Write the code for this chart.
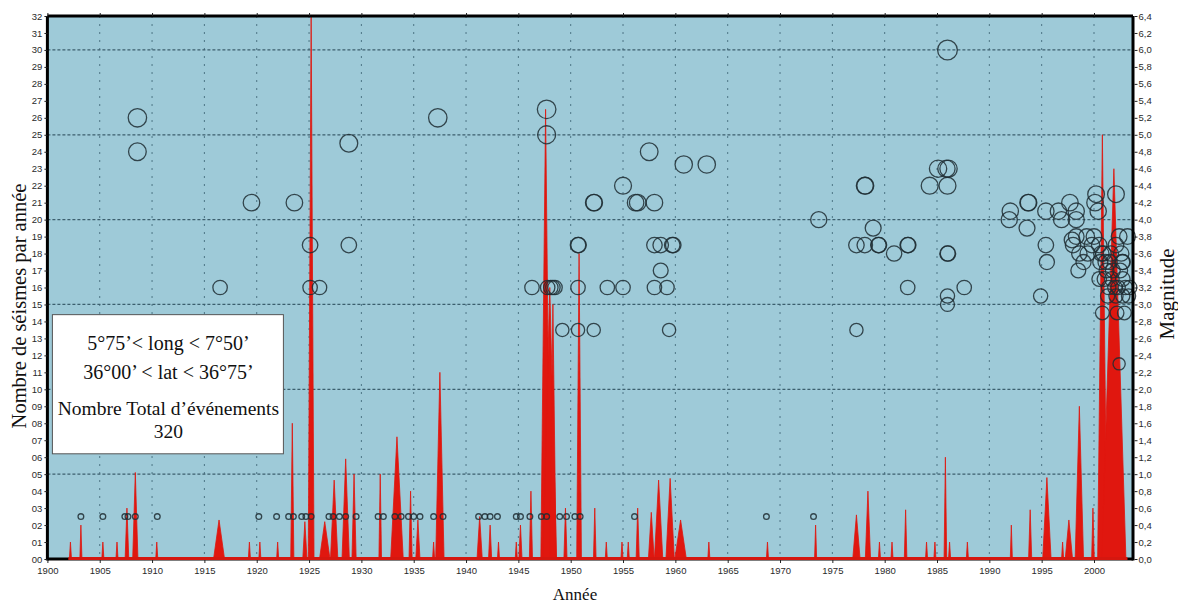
<!DOCTYPE html>
<html>
<head>
<meta charset="utf-8">
<script src="https://cdn.jsdelivr.net/npm/d3@7"></script>
<style>
  body { margin: 0; background: #fff; }
  svg { display: block; }
</style>
</head>
<body>
<div id="chart"></div>
<script>
// yearly counts drawn as spikes: peak year, count (left axis), base span in years
var spikeYears = [1902.2, 1903.2, 1905.3, 1906.65, 1907.6, 1908.4, 1910.45, 1916.4, 1919.3, 1920.3,
  1922.0, 1923.4, 1924.6, 1925.2, 1926.5, 1927.4, 1928.5, 1929.3, 1931.8, 1933.4,
  1934.7, 1935.4, 1936.9, 1937.5, 1941.3, 1942.3, 1943.1, 1944.8, 1945.2, 1946.2,
  1947.6, 1948.0, 1948.3, 1949.5, 1950.8, 1952.3, 1953.4, 1954.9, 1955.5, 1956.4,
  1957.7, 1958.4, 1959.5, 1960.5, 1963.2, 1968.8, 1973.4, 1977.3, 1978.4, 1979.5,
  1980.7, 1982.0, 1984.0, 1984.8, 1985.8, 1986.2, 1987.9, 1992.1, 1993.9, 1995.5,
  1997.0, 1997.6, 1998.6, 1999.9, 2000.8, 2001.9]
var spikeCounts = [1, 2, 1, 1, 3, 5.1, 1, 2.3, 1, 1,
  1, 8, 2.2, 32, 2.2, 4.65, 5.9, 5, 5, 7.2,
  4, 2.3, 1, 11, 2.5, 2, 1, 1, 2, 4,
  26.5, 16, 15, 3, 18, 3, 1, 1, 1, 3,
  2.75, 4.65, 4.75, 2.3, 1, 1, 2, 2.6, 4, 1,
  1, 2.9, 1, 1, 6, 1, 1, 2, 2.9, 4.8,
  1, 2.3, 9, 3, 25, 23]
var spikeSpans = [0.2, 0.2, 0.2, 0.2, 0.35, 0.5, 0.2, 1.05, 0.2, 0.2,
  0.2, 0.3, 0.4, 0.55, 1.0, 0.7, 0.7, 0.4, 0.25, 1.2,
  0.3, 0.4, 0.2, 0.8, 0.5, 0.3, 0.2, 0.2, 0.3, 0.3,
  0.9, 1.3, 0.6, 0.3, 0.45, 0.25, 0.2, 0.2, 0.2, 0.3,
  0.55, 0.8, 0.8, 1.1, 0.2, 0.2, 0.2, 0.7, 0.5, 0.2,
  0.2, 0.25, 0.2, 0.2, 0.25, 0.2, 0.2, 0.2, 0.3, 0.8,
  0.2, 0.7, 0.8, 0.25, 0.9, 2.3]

// individual events: year and magnitude (right axis); 0.5 = magnitude not known
var eventYears = [1908.6, 1908.6, 1916.5, 1919.5, 1923.6, 1925.1, 1925.1, 1926.0, 1928.8, 1928.8,
  1937.3, 1946.3, 1947.7, 1947.7, 1947.8, 1948.1, 1948.3, 1948.5, 1949.2, 1950.7,
  1950.75, 1950.7, 1950.7, 1952.2, 1952.25, 1952.2, 1953.5, 1955.0, 1955.0, 1956.2,
  1956.4, 1957.5, 1958.0, 1958.0, 1958.0, 1958.6, 1958.6, 1959.2, 1959.4, 1959.7,
  1959.8, 1960.8, 1963.0, 1973.7, 1977.3, 1977.3, 1978.1, 1978.15, 1978.1, 1978.9,
  1979.4, 1979.45, 1980.9, 1982.2, 1982.25, 1982.2, 1984.3, 1985.1, 1986.0, 1986.0,
  1985.9, 1986.1, 1986.0, 1986.05, 1986.0, 1986.0, 1987.6, 1992.0, 1991.9, 1993.7,
  1993.75, 1993.6, 1994.9, 1995.4, 1995.4, 1995.5, 1996.6, 1996.9, 1997.7, 1998.0,
  1997.9, 1998.3, 1998.3, 1998.3, 1998.5, 1998.6, 1999.0, 1999.3, 1999.4, 2000.1,
  2000.2, 2000.4, 2000.0, 1999.8, 2000.5, 2000.6, 2000.9, 2001.2, 2001.5, 2001.8,
  2002.1, 2002.7, 2003.0, 2003.3, 2003.4, 2000.5, 2001.0, 2001.4, 2001.7, 2002.0,
  2002.3, 2002.1, 2002.4, 2002.6, 2002.75, 2002.75, 2002.1, 2002.75, 2001.3, 2000.8,
  2002.2, 2002.9, 2002.4, 2000.7, 2001.1, 2001.6, 2002.5, 2003.2,
  1903.2, 1905.3, 1907.4, 1907.7, 1908.4, 1910.5, 1920.2, 1921.9, 1923.05, 1923.5,
  1924.3, 1924.7, 1925.2, 1926.9, 1927.3, 1927.9, 1928.5, 1929.5, 1931.6, 1932.1,
  1933.2, 1933.8, 1934.5, 1935.0, 1935.6, 1936.9, 1937.8, 1941.2, 1941.8, 1942.3,
  1943.0, 1944.8, 1945.2, 1946.1, 1947.2, 1947.7, 1948.95, 1949.6, 1950.4, 1950.9,
  1956.1, 1968.7, 1973.2]
var eventMags = [5.2, 4.8, 3.2, 4.2, 4.2, 3.7, 3.2, 3.2, 4.9, 3.7,
  5.2, 3.2, 5.3, 5.0, 3.2, 3.2, 3.2, 3.2, 2.7, 3.7,
  3.7, 3.2, 2.7, 4.2, 4.2, 2.7, 3.2, 4.4, 3.2, 4.2,
  4.2, 4.8, 4.2, 3.7, 3.2, 3.7, 3.4, 3.2, 2.7, 3.7,
  3.7, 4.65, 4.65, 4.0, 3.7, 2.7, 4.4, 4.4, 3.7, 3.9,
  3.7, 3.7, 3.6, 3.7, 3.7, 3.2, 4.4, 4.6, 6.0, 4.4,
  4.6, 4.6, 3.6, 3.6, 3.1, 3.0, 3.2, 4.1, 4.0, 4.2,
  4.2, 3.9, 3.1, 4.1, 3.7, 3.5, 4.1, 4.0, 4.2, 3.7,
  3.76, 4.1, 4.0, 3.8, 3.4, 3.6, 3.5, 3.8, 3.6, 4.2,
  4.3, 4.1, 3.8, 3.7, 3.7, 3.5, 3.6, 3.4, 3.5, 3.4,
  3.7, 3.5, 3.2, 3.1, 3.2, 3.3, 3.3, 3.2, 3.3, 3.2,
  3.2, 4.3, 3.8, 3.6, 3.5, 3.3, 3.1, 3.1, 3.1, 2.9,
  2.9, 2.9, 2.3, 3.6, 3.5, 3.6, 3.4, 3.8,
  0.5, 0.5, 0.5, 0.5, 0.5, 0.5, 0.5, 0.5, 0.5, 0.5,
  0.5, 0.5, 0.5, 0.5, 0.5, 0.5, 0.5, 0.5, 0.5, 0.5,
  0.5, 0.5, 0.5, 0.5, 0.5, 0.5, 0.5, 0.5, 0.5, 0.5,
  0.5, 0.5, 0.5, 0.5, 0.5, 0.5, 0.5, 0.5, 0.5, 0.5,
  0.5, 0.5, 0.5]

var countTicks = d3.range(0, 33)
var magTicks = d3.range(0, 33).map(d => d / 5)
var yearTicks = d3.range(1900, 2001, 5)
var gridCounts = [5, 10, 15, 20, 25, 30]
var legendLines = ['5°75’< long < 7°50’', '36°00’ < lat < 36°75’', 'Nombre Total d’événements', '320']

var margin = { top: 16, left: 47.4, right: 45, bottom: 49 }
var width = 1178 - margin.left - margin.right
var height = 608 - margin.top - margin.bottom

var svg = d3
  .select('#chart')
  .append('svg')
  .attr('width', 1178)
  .attr('height', 608)

var g = svg.append('g').attr('transform', `translate(${margin.left}, ${margin.top})`)

var xPositionScale = d3
  .scaleLinear()
  .domain([1900, 1900 + width / 10.466])
  .range([0, width])
var yPositionScale = d3
  .scaleLinear()
  .domain([0, 32])
  .range([height, 0])
var magScale = d3
  .scaleLinear()
  .domain([0, 6.4])
  .range([height, 0])
var radiusScale = d3
  .scaleSqrt()
  .domain([0, 6.4])
  .range([0, 10.2])

// background
g.append('rect')
  .attr('width', width)
  .attr('height', height)
  .attr('fill', '#9ecad8')

// grid
g.selectAll('.vgrid')
  .data(yearTicks.filter(d => d > 1900))
  .enter()
  .append('line')
  .attr('x1', d => xPositionScale(d))
  .attr('x2', d => xPositionScale(d))
  .attr('y1', 0)
  .attr('y2', height)
  .attr('stroke', '#4d7585')
  .attr('stroke-width', 1)
  .attr('stroke-dasharray', '2,6')

g.selectAll('.hgrid')
  .data(gridCounts)
  .enter()
  .append('line')
  .attr('x1', 0)
  .attr('x2', width)
  .attr('y1', d => yPositionScale(d))
  .attr('y2', d => yPositionScale(d))
  .attr('stroke', '#3c5f6e')
  .attr('stroke-width', 1.3)
  .attr('stroke-dasharray', '3,2')

// spikes
var spikes = spikeYears.map((d, i) => [
  { year: d - spikeSpans[i] / 2, n: 0 },
  { year: d, n: spikeCounts[i] },
  { year: d + spikeSpans[i] / 2, n: 0 }
])

var area = d3
  .area()
  .x(d => xPositionScale(d.year))
  .y1(d => yPositionScale(d.n))
  .y0(height)

g.selectAll('.spike')
  .data(spikes)
  .enter()
  .append('path')
  .attr('class', 'spike')
  .attr('d', area)
  .attr('fill', '#e0170f')
  .attr('stroke', '#e0170f')
  .attr('stroke-width', 0.8)

// events
g.selectAll('.event')
  .data(eventYears)
  .enter()
  .append('circle')
  .attr('cx', d => xPositionScale(d))
  .attr('cy', (d, i) => magScale(eventMags[i]))
  .attr('r', (d, i) => radiusScale(eventMags[i]))
  .attr('fill', 'none')
  .attr('stroke', '#1f2d33')
  .attr('stroke-opacity', 0.85)
  .attr('stroke-width', 1.3)

// legend box
g.append('rect')
  .attr('x', 5)
  .attr('y', yPositionScale(14.4))
  .attr('width', 231)
  .attr('height', yPositionScale(6.2) - yPositionScale(14.4))
  .attr('fill', '#fff')
  .attr('stroke', '#555')
  .attr('stroke-width', 1)

g.selectAll('.legend-text')
  .data(legendLines)
  .enter()
  .append('text')
  .attr('x', 121)
  .attr('y', (d, i) => [334, 363, 399, 422][i])
  .attr('text-anchor', 'middle')
  .attr('font-family', 'Liberation Serif, Times New Roman, serif')
  .attr('font-size', (d, i) => (i < 2 ? 20 : 19.5))
  .attr('fill', '#111')
  .text(d => d)

// baseline
g.append('line')
  .attr('x1', 0)
  .attr('x2', width)
  .attr('y1', height)
  .attr('y2', height)
  .attr('stroke', '#000')
  .attr('stroke-width', 3)
g.append('line')
  .attr('x1', xPositionScale(1902.0))
  .attr('x2', xPositionScale(2003.2))
  .attr('y1', height - 0.5)
  .attr('y2', height - 0.5)
  .attr('stroke', '#d5170f')
  .attr('stroke-width', 3)

// frame
g.append('line').attr('x1', 0).attr('x2', width).attr('y1', 0).attr('y2', 0)
  .attr('stroke', '#000').attr('stroke-width', 3)
g.append('line').attr('x1', 0).attr('x2', 0).attr('y1', 0).attr('y2', height + 1.5)
  .attr('stroke', '#000').attr('stroke-width', 3)
g.append('line').attr('x1', width).attr('x2', width).attr('y1', 0).attr('y2', height + 1.5)
  .attr('stroke', '#000').attr('stroke-width', 3)

// axes
var tickFont = 'Liberation Sans, Arial, sans-serif'

var yAxis = d3
  .axisLeft(yPositionScale)
  .tickValues(countTicks)
  .tickSize(3)
  .tickPadding(2)
  .tickFormat(d => (d < 10 ? '0' + d : d))
g.append('g').attr('class', 'axis y-axis').call(yAxis)

var magAxis = d3
  .axisRight(magScale)
  .tickValues(magTicks)
  .tickSize(3)
  .tickPadding(1)
  .tickFormat(d => d3.format('.1f')(d).replace('.', ','))
g.append('g')
  .attr('class', 'axis mag-axis')
  .attr('transform', `translate(${width + 1.5}, 0)`)
  .call(magAxis)

var xAxis = d3
  .axisBottom(xPositionScale)
  .tickValues(yearTicks)
  .tickSize(3)
  .tickPadding(4)
  .tickFormat(d3.format('d'))
g.append('g')
  .attr('class', 'axis x-axis')
  .attr('transform', `translate(0, ${height + 1})`)
  .call(xAxis)

var topAxis = d3
  .axisTop(xPositionScale)
  .tickValues(yearTicks)
  .tickSize(3)
  .tickFormat('')
g.append('g').attr('class', 'axis top-axis').call(topAxis)

svg.selectAll('.axis .domain').remove()
svg.selectAll('.axis line').attr('stroke', '#222')
svg.selectAll('.axis text')
  .attr('font-family', tickFont)
  .attr('font-size', 9.5)
  .attr('fill', '#2a2a2a')

// titles
svg.append('text')
  .attr('transform', 'translate(26, 306) rotate(-90)')
  .attr('text-anchor', 'middle')
  .attr('font-family', 'Liberation Serif, Times New Roman, serif')
  .attr('font-size', 20.5)
  .attr('fill', '#111')
  .text('Nombre de séismes par année')

svg.append('text')
  .attr('transform', 'translate(1174, 294) rotate(-90)')
  .attr('text-anchor', 'middle')
  .attr('font-family', 'Liberation Serif, Times New Roman, serif')
  .attr('font-size', 21)
  .attr('fill', '#111')
  .text('Magnitude')

svg.append('text')
  .attr('x', 575)
  .attr('y', 600)
  .attr('text-anchor', 'middle')
  .attr('font-family', 'Liberation Serif, Times New Roman, serif')
  .attr('font-size', 17)
  .attr('fill', '#111')
  .text('Année')
</script>
</body>
</html>
